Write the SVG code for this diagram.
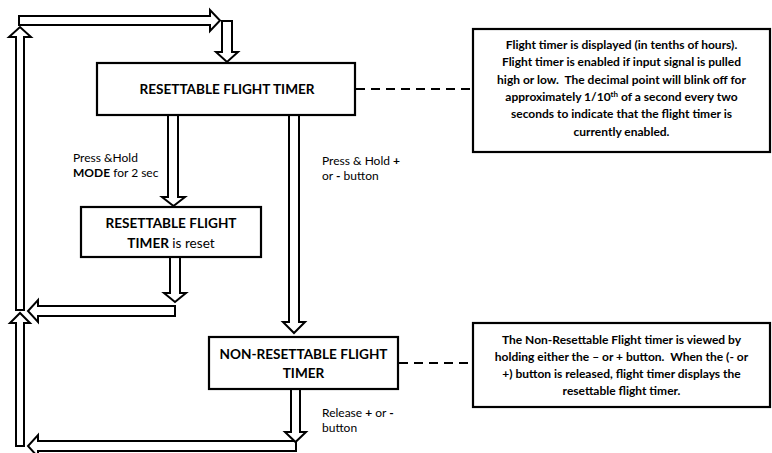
<svg xmlns="http://www.w3.org/2000/svg" width="772" height="453" viewBox="0 0 772 453">
<style>
.box{fill:#fff;stroke:#000;stroke-width:2.2}
.arr{fill:#fff;stroke:#000;stroke-width:2;stroke-linejoin:miter}
.dash{fill:none;stroke:#000;stroke-width:2;stroke-dasharray:9 6}
.t{font-family:Lato,"Liberation Sans",sans-serif;font-weight:bold;font-size:13.6px;fill:#000;text-anchor:middle}
.n{font-family:Lato,"Liberation Sans",sans-serif;font-size:12px;fill:#000;white-space:pre}
.i{font-family:Lato,"Liberation Sans",sans-serif;font-weight:bold;font-size:12px;fill:#000;text-anchor:middle;white-space:pre}
.b{font-weight:bold}
</style>
<rect width="772" height="453" fill="#fff"/>
<g id="connectors">
<polygon class="arr" points="19,16 210,16 210,10 220,20.5 210,31 210,25 19,25"/>
<polygon class="arr" points="222,21 232,21 232,52 238,52 227,62 216,52 222,52"/>
<polygon class="arr" points="16,310 16,37 9,37 20,27 31,37 24,37 24,310"/>
<polygon class="arr" points="16,446 16,323 10,323 20,313 30,323 24,323 24,446"/>
<polygon class="arr" points="175,306 175,316 38,316 38,322 28,311 38,300 38,306"/>
<polygon class="arr" points="296,441 296,451 38,451 38,457 28,446 38,435 38,441"/>
<polygon class="arr" points="168,115 178,115 178,197 185,197 173.5,206 162,197 168,197"/>
<polygon class="arr" points="170,257 180,257 180,293 186,293 175,302 164,293 170,293"/>
<polygon class="arr" points="289,115 299,115 299,322 305,322 294,333 283,322 289,322"/>
<polygon class="arr" points="291,389 300,389 300,432 306,432 295.5,442 285,432 291,432"/>
<line class="dash" x1="356" y1="89" x2="473" y2="89"/>
<line class="dash" x1="399" y1="363" x2="473" y2="363"/>
</g>
<g id="resettable">
<rect class="box" x="97" y="63" width="258" height="52"/>
<text class="t" x="227" y="94">RESETTABLE FLIGHT TIMER</text>
</g>
<g id="reset">
<rect class="box" x="81" y="207" width="180" height="50"/>
<text class="t" x="171" y="228">RESETTABLE FLIGHT</text>
<text class="t" x="171" y="248">TIMER <tspan font-weight="normal">is reset</tspan></text>
</g>
<g id="nonresettable">
<rect class="box" x="209" y="337" width="189" height="52"/>
<text class="t" x="303.5" y="359">NON-RESETTABLE FLIGHT</text>
<text class="t" x="303.5" y="378">TIMER</text>
</g>
<g id="info1">
<rect class="box" x="473" y="29" width="297" height="123"/>
<text class="i" x="621.5" y="49">Flight timer is displayed (in tenths of hours).</text>
<text class="i" x="621.5" y="66">Flight timer is enabled if input signal is pulled</text>
<text class="i" x="621.5" y="84">high or low.  The decimal point will blink off for</text>
<text class="i" x="621.5" y="101">approximately 1/10<tspan font-size="8px" dy="-4">th</tspan><tspan dy="4"> of a second every two</tspan></text>
<text class="i" x="621.5" y="118">seconds to indicate that the flight timer is</text>
<text class="i" x="621.5" y="136">currently enabled.</text>
</g>
<g id="info2">
<rect class="box" x="473" y="323" width="297" height="84"/>
<text class="i" x="621.5" y="344">The Non-Resettable Flight timer is viewed by</text>
<text class="i" x="621.5" y="361">holding either the – or + button.  When the (- or</text>
<text class="i" x="621.5" y="378">+) button is released, flight timer displays the</text>
<text class="i" x="621.5" y="395">resettable flight timer.</text>
</g>
<g id="labels">
<text class="n" x="73" y="162">Press &amp;Hold</text>
<text class="n" x="73" y="177"><tspan class="b">MODE</tspan> for 2 sec</text>
<text class="n" x="322" y="165">Press &amp; Hold <tspan class="b">+</tspan></text>
<text class="n" x="322" y="180">or <tspan class="b">-</tspan> button</text>
<text class="n" x="322" y="417">Release <tspan class="b">+</tspan> or <tspan class="b">-</tspan></text>
<text class="n" x="322" y="432">button</text>
</g>
</svg>
